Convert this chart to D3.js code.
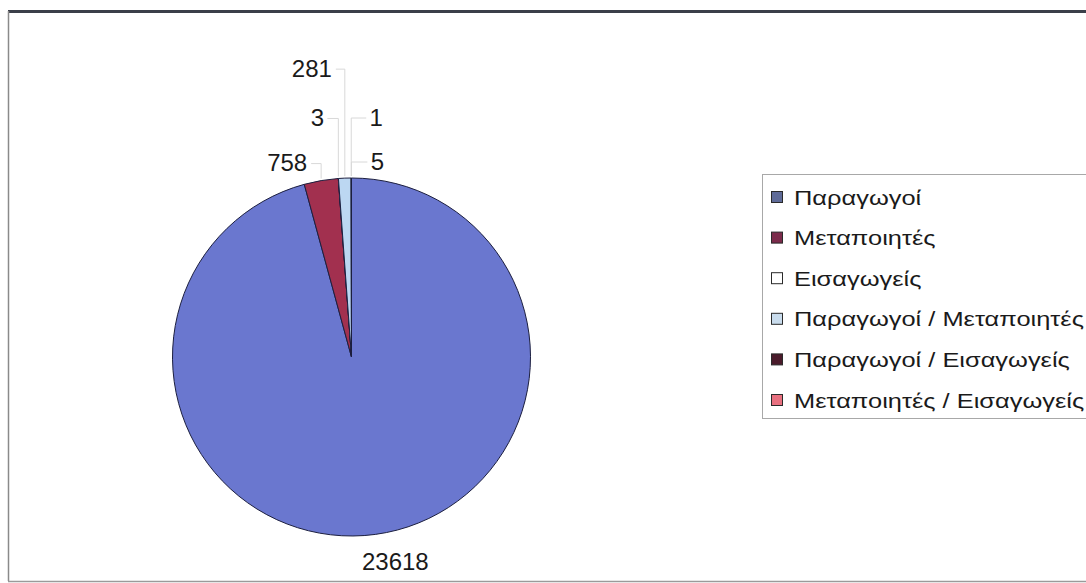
<!DOCTYPE html>
<html>
<head>
<meta charset="utf-8">
<style>
html, body {
  margin: 0px;
  padding: 0px;
  border: 0px;
  background: #fff;
}
text {
  font-family: "Liberation Sans", Arial, sans-serif;
  fill: #1a1a1a;
}
</style>
</head>
<body>
<div id="chart"></div>
<script src="https://cdn.jsdelivr.net/npm/d3@7/dist/d3.min.js"></script>
<script>
  // data
  var categories = ["Παραγωγοί", "Μεταποιητές", "Εισαγωγείς",
    "Παραγωγοί / Μεταποιητές", "Παραγωγοί / Εισαγωγείς", "Μεταποιητές / Εισαγωγείς"];
  var values = [23618, 758, 3, 281, 1, 5];

  var colors = ["#6a77cf", "#a2304f", "#ffffff", "#bcd7f2", "#4c1a2c", "#e9788a"];
  var legendColors = ["#5f6b98", "#7b2b4b", "#ffffff", "#c9dced", "#4a1b2b", "#e8707f"];

  // manual label layout (Excel moved the small ones by hand): offset of label
  // from the point where the slice middle meets the rim
  var labelOffsets = [[20, 27], [-34, -18], [-21, -61], [-33, -110], [25, -61], [26, -17]];

  var width = 1086, height = 583;
  var cx = 351.5, cy = 357, r = 179;

  var svg = d3.select("#chart").append("svg")
    .attr("width", width)
    .attr("height", height);

  // chart area frame
  svg.append("line").attr("x1", 8).attr("x2", width).attr("y1", 11.5).attr("y2", 11.5)
    .attr("stroke", "#3b3f49").attr("stroke-width", 3);
  svg.append("line").attr("x1", 8.5).attr("x2", 8.5).attr("y1", 11).attr("y2", 581)
    .attr("stroke", "#8a8a8a").attr("stroke-width", 1.5);
  svg.append("line").attr("x1", 8).attr("x2", width).attr("y1", 581.5).attr("y2", 581.5)
    .attr("stroke", "#9a9a9a").attr("stroke-width", 1.5);

  var color = d3.scaleOrdinal().domain(categories).range(colors);
  var legendColor = d3.scaleOrdinal().domain(categories).range(legendColors);

  var pie = d3.pie().sort(null).value(function (d, i) { return values[i]; });
  var arcs = pie(categories);

  var arc = d3.arc().innerRadius(0).outerRadius(r);

  var g = svg.append("g").attr("transform", "translate(" + cx + "," + cy + ")");

  g.selectAll("path.slice")
    .data(arcs)
    .enter()
    .append("path")
    .attr("class", "slice")
    .attr("d", arc)
    .attr("fill", function (d) { return color(d.data); })
    .attr("stroke", "#1c1f3f")
    .attr("stroke-width", 1)
    .attr("stroke-linejoin", "round");

  function rimPoint(d) {
    var a = (d.startAngle + d.endAngle) / 2;
    return [r * Math.sin(a), -r * Math.cos(a)];
  }

  // leader lines for the small slices
  g.selectAll("path.leader")
    .data(arcs.slice(1))
    .enter()
    .append("path")
    .attr("class", "leader")
    .attr("fill", "none")
    .attr("stroke", "#d8d8d8")
    .attr("stroke-width", 1)
    .attr("d", function (d) {
      var i = d.index, p = rimPoint(d), o = labelOffsets[i];
      var lx = p[0] + o[0], ly = p[1] + o[1];
      var side = o[0] < 0 ? 1 : -1;
      var half = String(values[i]).length * 7 + 3;
      return d3.line()([[p[0], p[1] - 2], [p[0], ly + 1], [lx + side * half, ly + 1]]);
    });

  g.selectAll("text.value")
    .data(arcs)
    .enter()
    .append("text")
    .attr("class", "value")
    .attr("x", function (d) { return rimPoint(d)[0] + labelOffsets[d.index][0]; })
    .attr("y", function (d) { return rimPoint(d)[1] + labelOffsets[d.index][1]; })
    .attr("text-anchor", "middle")
    .attr("dy", "0.36em")
    .attr("font-size", 24)
    .text(function (d) { return values[d.index]; });

  // legend
  var legend = svg.append("g").attr("transform", "translate(762,174)");
  legend.append("rect")
    .attr("x", 0.5).attr("y", 0.5)
    .attr("width", 340).attr("height", 244)
    .attr("fill", "#fff")
    .attr("stroke", "#a8a8a8")
    .attr("stroke-width", 1);

  var ly = d3.scalePoint().domain(categories).range([23, 226]);

  var items = legend.selectAll("g.item")
    .data(categories)
    .enter()
    .append("g")
    .attr("class", "item")
    .attr("transform", function (d) { return "translate(0," + ly(d) + ")"; });

  items.append("rect")
    .attr("x", 9.5).attr("y", -5.5)
    .attr("width", 11).attr("height", 11)
    .attr("fill", function (d) { return legendColor(d); })
    .attr("stroke", "#2a2a2a")
    .attr("stroke-width", 1);

  // the original font (Century Gothic) runs much wider, stretch to match
  items.append("text")
    .attr("x", 32)
    .attr("dy", "0.36em")
    .attr("font-size", 21)
    .text(function (d) { return d; })
    .each(function () {
      var w = this.getComputedTextLength();
      d3.select(this).attr("textLength", w * 1.21).attr("lengthAdjust", "spacingAndGlyphs");
    });
</script>
</body>
</html>
